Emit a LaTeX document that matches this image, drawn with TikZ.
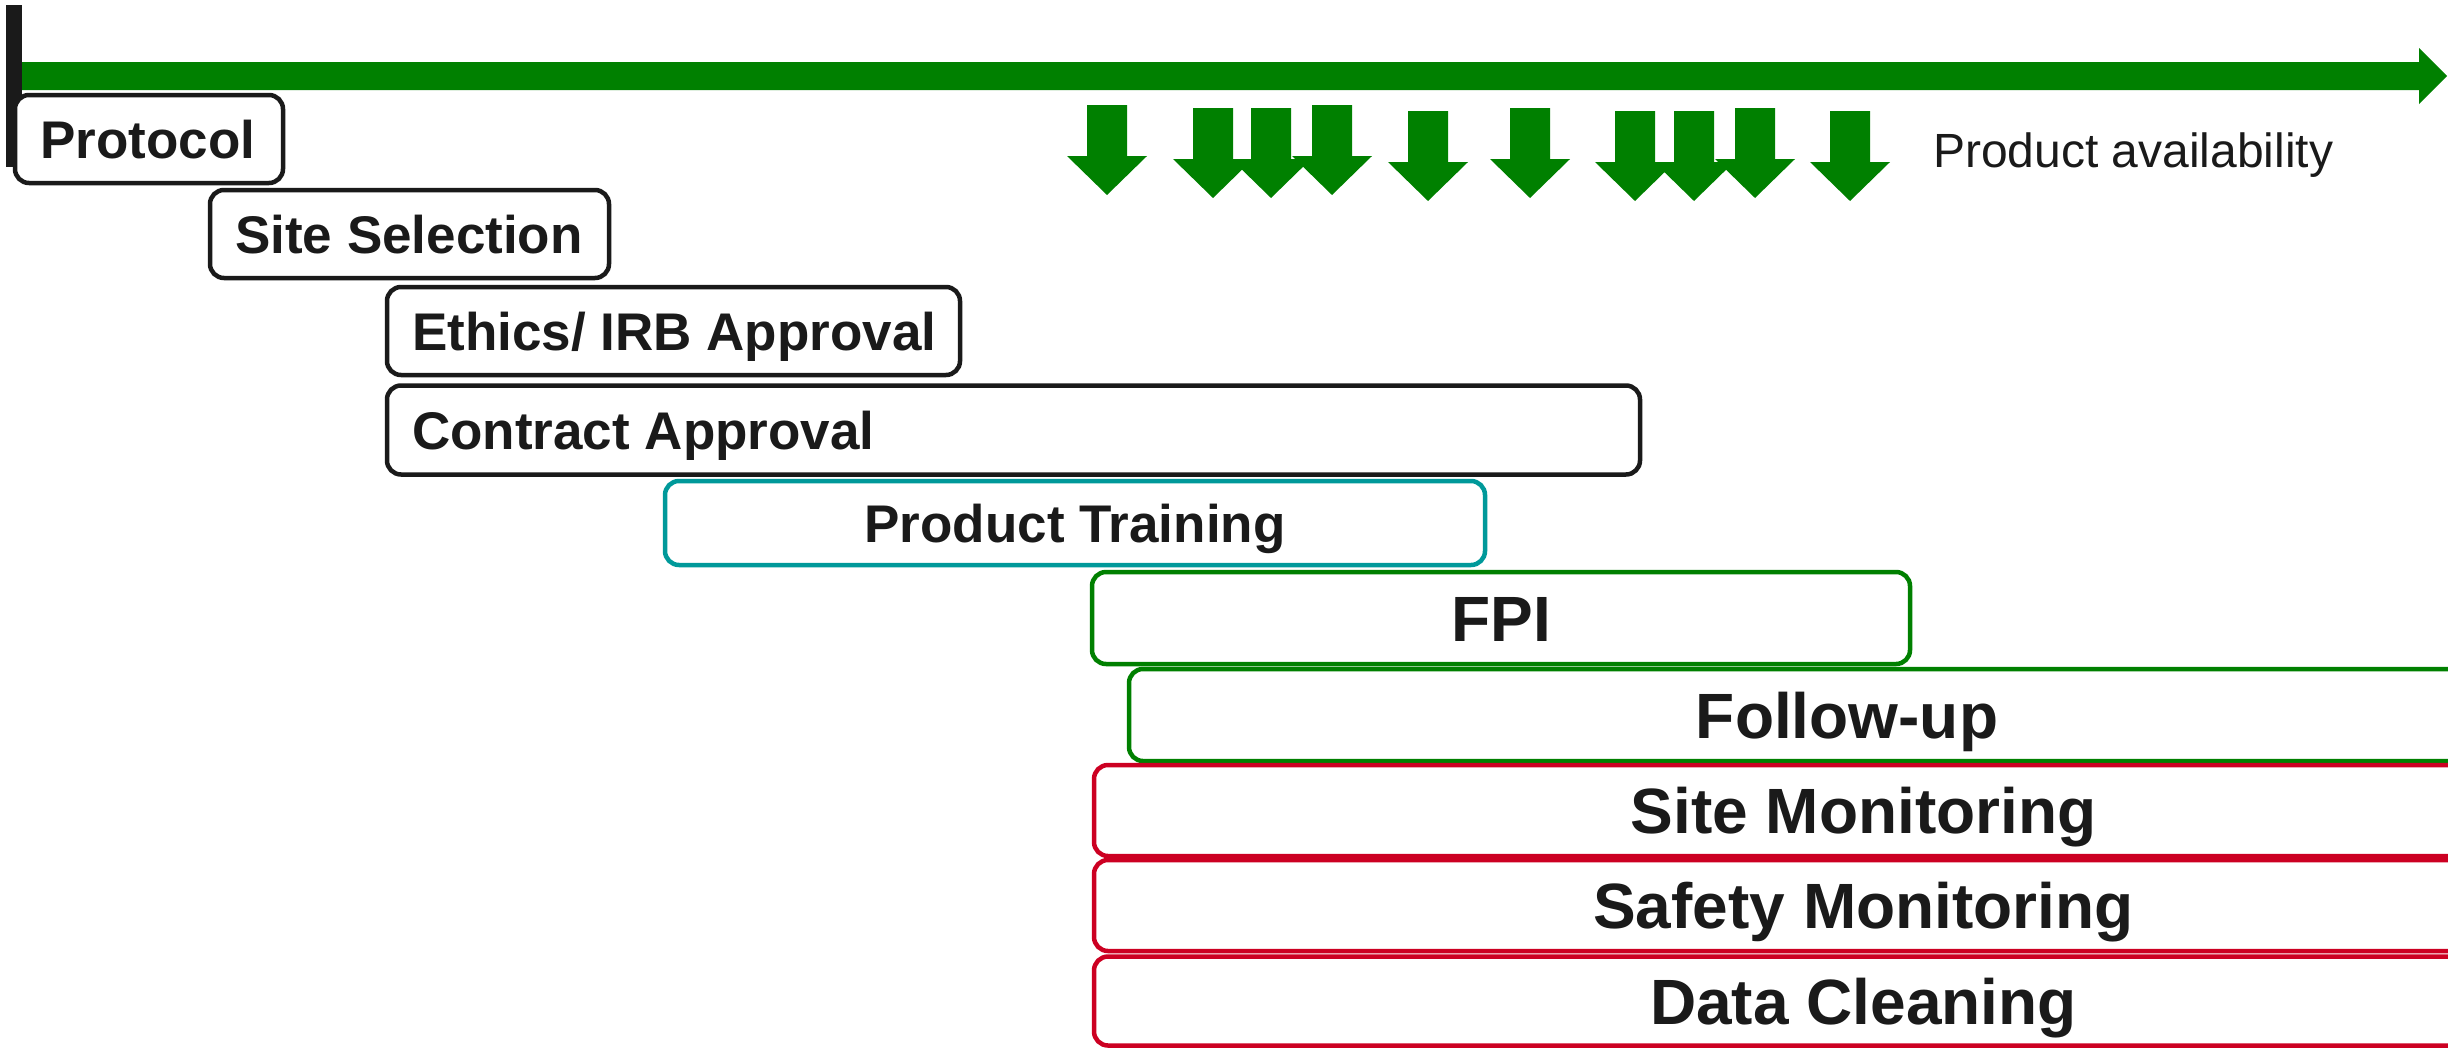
\documentclass[tikz,border=0pt]{standalone}
\usepackage{fontspec}
\setmainfont{Liberation Sans}
\definecolor{ink}{HTML}{1A1A1A}
\definecolor{axisgreen}{HTML}{008000}
\definecolor{trainteal}{HTML}{00999A}
\definecolor{alertred}{HTML}{CC0022}
\tikzset{
  phase/.style={draw=#1, line width=4.5pt, rounded corners=14pt, fill=white,
    inner sep=0pt, outer sep=0pt},
  lbl/.style={inner sep=0pt, text=ink, font=\fontsize{53pt}{60pt}\selectfont\bfseries,
    text height=38pt, text depth=0pt},
  biglbl/.style={inner sep=0pt, text=ink, font=\fontsize{64pt}{72pt}\selectfont\bfseries,
    text height=46pt, text depth=0pt},
  note/.style={inner sep=0pt, text=ink, font=\fontsize{48pt}{54pt}\selectfont},
}
\begin{document}
\begin{tikzpicture}[x=1pt, y=-1pt]
\useasboundingbox (0,0) rectangle (2448,1047);
\clip (0,0) rectangle (2448,1047);

% start marker and time axis
\fill[ink] (6,5) rectangle (22,167);
\fill[axisgreen] (22,62) -- (2419,62) -- (2419,48) -- (2447,76) -- (2419,104)
  -- (2419,90) -- (22,90) -- cycle;

% product delivery arrows
\foreach \cx/\ty in {1107/105, 1213/108, 1271/108, 1332/105, 1428/111,
                     1530/108, 1635/111, 1694/111, 1755/108, 1850/111}
  \fill[axisgreen] ({\cx-20},\ty) -- ({\cx+20},\ty) -- ({\cx+20},{\ty+51})
    -- ({\cx+40},{\ty+51}) -- (\cx,{\ty+90}) -- ({\cx-40},{\ty+51})
    -- ({\cx-20},{\ty+51}) -- cycle;
\node[note, anchor=base west] (avail) at (1933,167) {Product availability};

% start-up phases (left-aligned labels)
\node[phase=ink, minimum width=268pt, minimum height=88pt] (protocol) at (149,139) {};
\node[lbl, anchor=west] (protocol-txt) at ([xshift=25pt]protocol.west) {Protocol};

\node[phase=ink, minimum width=399pt, minimum height=88pt] (sitesel) at (409.5,234) {};
\node[lbl, anchor=west] (sitesel-txt) at ([xshift=25pt]sitesel.west) {Site Selection};

\node[phase=ink, minimum width=573pt, minimum height=88pt] (ethics) at (673.5,331) {};
\node[lbl, anchor=west] (ethics-txt) at ([xshift=25pt]ethics.west) {Ethics/ IRB Approval};

\node[phase=ink, minimum width=1253pt, minimum height=89pt] (contract) at (1013.5,430) {};
\node[lbl, anchor=west] (contract-txt) at ([xshift=25pt]contract.west) {Contract Approval};

% centred phases
\node[phase=trainteal, minimum width=820pt, minimum height=84pt] (training) at (1075,523) {};
\node[lbl] (training-txt) at (training.center) {Product Training};

\node[phase=axisgreen, minimum width=818pt, minimum height=92pt] (fpi) at (1501,618) {};
\node[biglbl] (fpi-txt) at (fpi.center) {FPI};

\node[phase=axisgreen, minimum width=1436pt, minimum height=92pt] (followup) at (1847,715) {};
\node[biglbl] (followup-txt) at (followup.center) {Follow-up};

\node[phase=alertred, minimum width=1539pt, minimum height=91pt] (sitemon) at (1863.5,810.5) {};
\node[biglbl] (sitemon-txt) at (sitemon.center) {Site Monitoring};

\node[phase=alertred, minimum width=1539pt, minimum height=91pt] (safety) at (1863.5,905.5) {};
\node[biglbl] (safety-txt) at (safety.center) {Safety Monitoring};

\node[phase=alertred, minimum width=1539pt, minimum height=89pt] (cleaning) at (1863.5,1001) {};
\node[biglbl] (cleaning-txt) at (cleaning.center) {Data Cleaning};
\end{tikzpicture}
\end{document}
